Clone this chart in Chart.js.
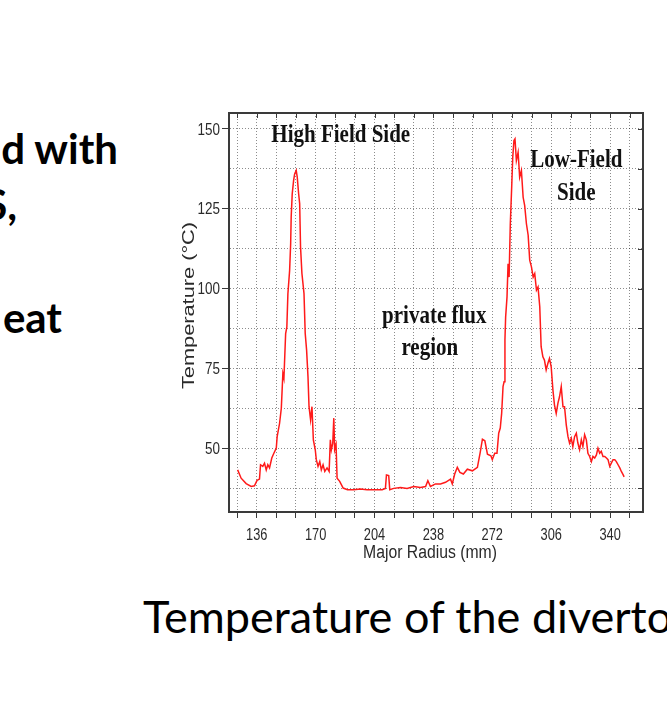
<!DOCTYPE html>
<html>
<head>
<meta charset="utf-8">
<title>Divertor temperature</title>
<script src="https://cdn.jsdelivr.net/npm/chart.js@4.4.1/dist/chart.umd.min.js"></script>
<style>
  html, body { margin: 0; padding: 0; background: #fff; }
  body { width: 667px; height: 719px; position: relative; overflow: hidden; }
  .slide-text { position: absolute; white-space: nowrap; font-family: Lato, "Open Sans", sans-serif; color: #000; line-height: 1; }
  .bold { font-weight: bold; font-size: 42px; text-align: right; }
  #caption { left: 143px; top: 594px; font-size: 45px; }
  #chartBox { position: absolute; left: 170px; top: 100px; width: 490px; height: 480px; }
</style>
</head>
<body>
<div class="slide-text bold" style="right: 549px; top: 127px;">d with</div>
<div class="slide-text bold" style="right: 650px; top: 183px;">S,</div>
<div class="slide-text bold" style="right: 605px; top: 296px;">eat</div>
<div class="slide-text" id="caption">Temperature of the divertor</div>
<div id="chartBox"><canvas id="tempChart" width="490" height="480"></canvas></div>

<script>
/* ============================
   DATA
   ============================ */
const radiusMm = [
  125.0, 127.0, 129.9, 132.8, 134.7, 136.2, 137.6, 138.2, 139.5, 140.5,
  141.5, 142.4, 143.4, 144.7, 145.9, 147.3, 147.8, 149.2, 150.2, 151.1,
  151.7, 152.7, 153.4, 154.0, 155.0, 155.6, 155.9, 156.5, 157.3, 157.9,
  158.8, 159.4, 160.2, 160.8, 161.3, 162.1, 163.3, 164.0, 164.8, 165.6,
  166.2, 167.1, 167.9, 168.7, 169.8, 170.4, 171.4, 172.4, 173.3, 174.3,
  175.3, 176.6, 177.8, 178.5, 179.1, 179.9, 180.5, 181.0, 181.8, 182.4,
  183.9, 185.9, 188.4, 192.0, 195.8, 199.7, 203.5, 208.4, 210.3, 210.9,
  212.2, 212.8, 215.1, 219.0, 222.8, 226.7, 230.5, 233.5, 234.8, 236.3,
  239.2, 242.1, 245.0, 247.9, 248.9, 250.3, 251.8, 253.3, 255.3, 257.6,
  260.5, 263.4, 265.0, 266.3, 267.7, 269.2, 271.2, 272.0, 273.4, 274.7,
  275.7, 276.6, 277.4, 278.2, 278.8, 279.3, 279.7, 280.5, 281.1, 281.7,
  282.4, 283.2, 283.8, 284.5, 285.1, 285.9, 286.9, 287.8, 288.8, 289.8,
  290.7, 291.7, 292.7, 293.6, 294.6, 295.6, 296.5, 297.5, 298.4, 299.4,
  300.2, 301.2, 302.1, 303.1, 304.1, 305.0, 306.0, 307.0, 307.9, 308.9,
  309.9, 310.8, 311.8, 312.8, 313.7, 314.7, 315.7, 316.6, 317.6, 318.5,
  319.5, 320.5, 321.4, 322.4, 323.4, 324.3, 325.3, 326.3, 327.2, 328.2,
  329.2, 330.1, 331.1, 332.1, 333.0, 334.0, 334.9, 335.9, 336.9, 337.9,
  338.8, 339.8, 340.7, 341.7, 342.7, 343.6, 344.6, 345.6, 346.5, 347.5,
  348.1
];
const temperatureC = [
  43.2, 40.6, 38.9, 38.0, 38.2, 39.9, 40.3, 44.8, 44.3, 45.3,
  43.2, 44.8, 43.8, 46.9, 48.4, 50.0, 53.6, 57.8, 62.5, 73.4,
  71.9, 85.9, 88.0, 98.4, 105.7, 114.1, 122.4, 129.7, 133.9, 135.9,
  137.0, 134.9, 129.7, 126.6, 113.0, 104.7, 98.4, 85.9, 80.7, 72.4,
  63.0, 58.9, 63.0, 52.6, 49.5, 46.4, 44.3, 45.8, 43.2, 44.8,
  42.7, 43.8, 42.7, 52.6, 49.5, 51.5, 59.4, 49.5, 51.1, 40.6,
  39.6, 37.5, 37.0, 37.0, 37.2, 37.0, 37.0, 37.0, 37.4, 41.6,
  41.4, 37.0, 37.4, 37.7, 37.4, 38.0, 37.7, 38.0, 39.8, 38.0,
  38.8, 38.8, 39.3, 40.3, 38.8, 41.9, 44.0, 42.4, 41.9, 43.4,
  42.9, 44.0, 48.6, 52.8, 52.3, 48.1, 47.6, 46.4, 48.4, 48.4,
  54.7, 56.3, 60.9, 69.3, 70.8, 83.9, 91.1, 97.4, 107.8, 103.6,
  120.3, 131.8, 141.1, 146.4, 146.9, 140.1, 142.7, 134.9, 137.0, 128.6,
  126.0, 120.3, 116.7, 108.9, 106.8, 103.6, 104.7, 99.5, 100.5, 94.3,
  81.8, 78.6, 77.6, 74.5, 76.6, 78.1, 75.5, 68.2, 63.5, 60.9,
  64.1, 66.1, 69.3, 63.0, 63.0, 57.3, 53.6, 51.6, 53.1, 50.5,
  53.6, 54.7, 51.6, 49.5, 52.6, 50.5, 54.2, 52.6, 48.4, 47.4,
  45.8, 47.4, 46.9, 47.9, 50.0, 48.4, 49.0, 47.4, 47.4, 46.9,
  46.4, 44.3, 45.3, 46.4, 46.4, 45.8, 44.8, 43.8, 42.7, 41.7,
  41.0
];

const xTickLabels = [136, 170, 204, 238, 272, 306, 340];
const yTickLabels = [50, 75, 100, 125, 150];

const xTitle = "Major Radius (mm)";
const yTitle = "Temperature (°C)";

// in-plot labels, anchored in data units
const plotNotes = [
  { text: "High Field Side", x: 184.5, y: 145.8 },
  { text: "Low-Field", x: 320.5, y: 138.1 },
  { text: "Side", x: 320.5, y: 127.6 },
  { text: "private flux", x: 238.5, y: 89.3 },
  { text: "region", x: 235.9, y: 79.3 },
];

/* ============================
   HELPERS
   ============================ */
const SANS = '"Liberation Sans", Arial, sans-serif';
const GRID = "rgba(0,0,0,0.45)";
const AXIS = "#3a3a3a";
const LABEL = "#2a2a2a";

// labelled ticks plus the unlabelled grid steps between them
function xGridValues() {
  const step = xTickLabels[1] - xTickLabels[0];
  const out = [xTickLabels[0] - step / 3];
  xTickLabels.forEach((v, i) => {
    out.push(v);
    out.push(v + step / 3);
    if (i < xTickLabels.length - 1) out.push(v + (2 * step) / 3);
  });
  return out;
}
function yGridValues() {
  const step = yTickLabels[1] - yTickLabels[0];
  const out = [yTickLabels[0] - step / 2];
  yTickLabels.forEach((v, i) => {
    out.push(v);
    if (i < yTickLabels.length - 1) out.push(v + step / 2);
  });
  return out;
}
const isLabel = (list, v) => list.some((l) => Math.abs(l - v) < 1e-6);

// the source figure was stretched vertically, so its text looks narrow
function squeezedText(ctx, text, x, y, sx, sy) {
  ctx.save();
  ctx.translate(x, y);
  ctx.scale(sx, sy);
  ctx.fillText(text, 0, 0);
  ctx.restore();
}

/* ============================
   FRAME + TEXT PLUGIN
   ============================ */
const framePlugin = {
  id: "frame",
  afterDraw(chart) {
    const { ctx, chartArea: a, scales } = chart;
    const xs = scales.x;
    const ys = scales.y;
    ctx.save();

    // top and right sides of the box
    ctx.strokeStyle = AXIS;
    ctx.lineWidth = 2;
    ctx.beginPath();
    ctx.moveTo(a.left - 1, a.top);
    ctx.lineTo(a.right, a.top);
    ctx.lineTo(a.right, a.bottom + 1);
    ctx.stroke();

    // small inward ticks on top / right
    ctx.lineWidth = 1;
    ctx.beginPath();
    xs.ticks.forEach((t) => {
      const px = Math.round(xs.getPixelForValue(t.value)) + 0.5;
      ctx.moveTo(px, a.top);
      ctx.lineTo(px, a.top + 5);
    });
    ys.ticks.forEach((t) => {
      const py = Math.round(ys.getPixelForValue(t.value)) + 0.5;
      ctx.moveTo(a.right, py);
      ctx.lineTo(a.right - 5, py);
    });
    ctx.stroke();

    // tick labels
    ctx.fillStyle = LABEL;
    ctx.font = "16px " + SANS;
    ctx.textBaseline = "alphabetic";
    ctx.textAlign = "center";
    xs.ticks.forEach((t) => {
      if (!isLabel(xTickLabels, t.value)) return;
      squeezedText(ctx, String(Math.round(t.value)), xs.getPixelForValue(t.value), a.bottom + 28, 0.8, 1);
    });
    ctx.textAlign = "right";
    ys.ticks.forEach((t) => {
      if (!isLabel(yTickLabels, t.value)) return;
      squeezedText(ctx, String(t.value), a.left - 9, ys.getPixelForValue(t.value) + 5.7, 0.84, 1);
    });

    // axis titles
    ctx.font = "18px " + SANS;
    ctx.textAlign = "center";
    squeezedText(ctx, xTitle, (a.left + a.right) / 2 - 6, a.bottom + 46, 0.875, 1);

    ctx.font = "16px " + SANS;
    ctx.textBaseline = "middle";
    ctx.save();
    ctx.translate(a.left - 39, (a.top + a.bottom) / 2 - 7);
    ctx.rotate(-Math.PI / 2);
    ctx.scale(1.36, 1);
    ctx.fillText(yTitle, 0, 0);
    ctx.restore();

    // notes inside the plot (serif, slightly tall)
    ctx.fillStyle = "#111";
    ctx.font = 'bold 21px "Liberation Serif", "Times New Roman", serif';
    ctx.textAlign = "center";
    ctx.textBaseline = "alphabetic";
    plotNotes.forEach((n) => {
      squeezedText(ctx, n.text, xs.getPixelForValue(n.x), ys.getPixelForValue(n.y), 1, 1.2);
    });

    ctx.restore();
  },
};

/* ============================
   CHART
   ============================ */
const ctx = document.getElementById("tempChart").getContext("2d");

new Chart(ctx, {
  type: "line",
  data: {
    datasets: [
      {
        label: yTitle,
        data: radiusMm.map((r, i) => ({ x: r, y: temperatureC[i] })),
        borderColor: "#ff1a1a",
        borderWidth: 1.5,
        pointRadius: 0,
        tension: 0,
        fill: false,
      },
    ],
  },
  options: {
    responsive: false,
    animation: false,
    devicePixelRatio: 1,
    layout: { padding: { top: 13, right: 17, left: 0, bottom: 0 } },
    plugins: {
      legend: { display: false },
      tooltip: { enabled: false },
    },
    scales: {
      x: {
        type: "linear",
        min: 120,
        max: 359,
        afterBuildTicks: (scale) => {
          scale.ticks = xGridValues().map((v) => ({ value: v }));
        },
        afterFit: (scale) => {
          scale.height = 68;
        },
        ticks: { display: false, autoSkip: false },
        grid: {
          color: GRID,
          lineWidth: 1,
          tickLength: 6,
          tickColor: AXIS,
          tickBorderDash: [],
        },
        border: { color: AXIS, width: 2, dash: [1, 2] },
      },
      y: {
        type: "linear",
        min: 30,
        max: 155,
        afterBuildTicks: (scale) => {
          scale.ticks = yGridValues().map((v) => ({ value: v }));
        },
        afterFit: (scale) => {
          scale.width = 59;
        },
        ticks: { display: false, autoSkip: false },
        grid: {
          color: GRID,
          lineWidth: 1,
          tickLength: 7,
          tickColor: (c) => (c.tick && isLabel(yTickLabels, c.tick.value) ? AXIS : "rgba(0,0,0,0)"),
          tickBorderDash: [],
        },
        border: { color: AXIS, width: 2, dash: [1, 2] },
      },
    },
  },
  plugins: [framePlugin],
});
</script>
</body>
</html>
